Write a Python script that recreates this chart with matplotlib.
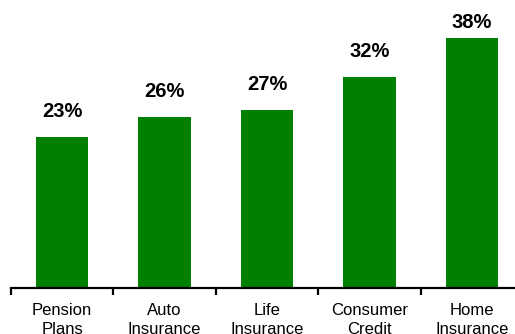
import numpy as np
import matplotlib.pyplot as plt

categories = ["Pension\nPlans", "Auto\nInsurance", "Life\nInsurance",
              "Consumer\nCredit", "Home\nInsurance"]
shares = [23, 26, 27, 32, 38]

plt.rcParams['font.family'] = ['Liberation Sans', 'DejaVu Sans']

fig = plt.figure(figsize=(5.15, 3.34), dpi=100)
# axes runs slightly past the right edge, like the original slide
ax = fig.add_axes([11 / 515, 46 / 334, 512 / 515, 288 / 334])

x = np.arange(len(categories))
ax.bar(x, shares, width=0.51, color="#008000")
# value labels sit above the bars, but are held below the top of the frame
for xi, v in zip(x, shares):
    ax.text(xi, min(v + 3.9, 40.4), f"{v}%", ha="center", va="center",
            fontsize=14.5, fontweight="bold")

ax.set_xlim(-0.5, len(categories) - 0.5)
ax.set_ylim(0, 43.78)

for s in ["top", "right", "left"]:
    ax.spines[s].set_visible(False)
ax.spines["bottom"].set_linewidth(1.6)
ax.set_yticks([])

ax.set_xticks(x)
ax.set_xticklabels(categories, fontsize=12, linespacing=1.35)
ax.tick_params(axis="x", which="major", length=0, pad=10.5)
ax.set_xticks(np.arange(len(categories) + 1) - 0.5, minor=True)
ax.tick_params(axis="x", which="minor", length=5, width=1.6, direction="out")

fig.savefig("out.png", dpi=100)
